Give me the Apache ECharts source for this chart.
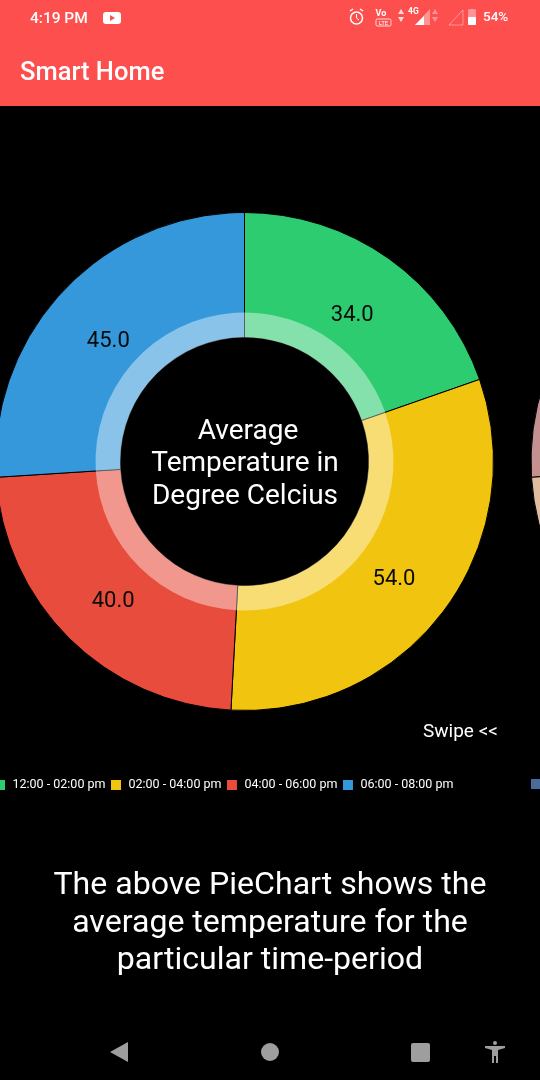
<!DOCTYPE html>
<html><head><meta charset="utf-8">
<style>html,body{margin:0;padding:0;background:#000}#c{width:540px;height:1080px}</style>
<script src="https://cdn.jsdelivr.net/npm/echarts@6/dist/echarts.min.js"></script>
</head><body><div id="c"></div>
<script>
const categories = ['12:00 - 02:00 pm','02:00 - 04:00 pm','04:00 - 06:00 pm','06:00 - 08:00 pm'];
const temperatures = [34.0, 54.0, 40.0, 45.0];
const sliceColors = ['#2ecc71','#f1c40f','#e74c3c','#3498db'];
const labelNudges = [[-2,9],[-2,4],[2,5],[2,10]];
const nextNames = ['next-a','next-b'];
const nextValues = [74, 26];
const nextColors = ['#e2bc9f','#c49090'];
const FONT = 'Roboto';
const txt = (x,y,text,size,extra={}) => ({type:'text',x,y,silent:true,z:extra.z||1,style:{text,fill:extra.fill||'#fff',font:`${extra.weight||400} ${size}px ${FONT}`,textAlign:extra.align||'left',textVerticalAlign:'middle'}});
const shape = (type,s,style,z=11) => ({type,shape:s,style,z,silent:true});
const faint = 'rgba(255,255,255,.4)';
const chart = echarts.init(document.getElementById('c'),null,{renderer:'canvas'});
const CENTER = [244.5,461.5];
chart.setOption({
  backgroundColor:'#000',
  animation:false,
  legend:{
    left:-7, top:778, width:700, orient:'horizontal', padding:0,
    itemWidth:12,itemHeight:12,itemGap:3.5,
    icon:'rect',
    selectedMode:false,
    data:categories,
    textStyle:{color:'#fff',fontFamily:FONT,fontSize:12.5,padding:[0,0,0,1.5]}
  },
  series:[
    {type:'pie',name:'Average Temperature',center:CENTER,radius:[124,249],startAngle:90,silent:true,
     itemStyle:{borderColor:'#000',borderWidth:1},
     label:{position:'inside',formatter:p=>p.value.toFixed(1),color:'#0a0a0a',fontFamily:FONT,fontSize:22},
     labelLine:{show:false},
     data:categories.map((n,i)=>({name:n,value:temperatures[i],itemStyle:{color:sliceColors[i]},label:{offset:labelNudges[i]}}))},
    {type:'pie',name:'ring',center:CENTER,radius:[124,149],startAngle:90,silent:true,
     itemStyle:{borderWidth:0},label:{show:false},labelLine:{show:false},
     data:categories.map((n,i)=>({name:n+' ring',value:temperatures[i],itemStyle:{color:'rgba(255,255,255,0.42)'}}))},
    {type:'pie',name:'next',center:[780,461.5],radius:[124,249],startAngle:90,silent:true,
     itemStyle:{borderColor:'#000',borderWidth:1},label:{show:false},labelLine:{show:false},
     data:nextNames.map((n,i)=>({name:n,value:nextValues[i],itemStyle:{color:nextColors[i]}}))}
  ],
  graphic:{elements:[
    shape('rect',{x:0,y:0,width:540,height:106},{fill:'#fe4f4f'},10),
    txt(30,19,'4:19 PM',15.5,{weight:500,z:11}),
    shape('rect',{x:103,y:12,width:18,height:12,r:3},{fill:'#fff'}),
    shape('polygon',{points:[[110,15],[110,21],[115,18]]},{fill:'#fe4f4f'},12),
    shape('circle',{cx:356.5,cy:18,r:6},{fill:'none',stroke:'#fff',lineWidth:1.5}),
    shape('line',{x1:350,y1:11,x2:353,y2:9},{stroke:'#fff',lineWidth:1.5}),
    shape('line',{x1:360,y1:9,x2:363,y2:11},{stroke:'#fff',lineWidth:1.5}),
    shape('polyline',{points:[[356.5,14],[356.5,18],[359,20]]},{fill:'none',stroke:'#fff',lineWidth:1}),
    txt(381,14,'Vo',9,{align:'center',weight:700,z:11}),
    shape('rect',{x:376,y:19,width:15,height:7,r:1.5},{fill:'none',stroke:'#fff',lineWidth:.8}),
    txt(383.5,23,'LTE',6,{align:'center',z:11}),
    shape('polygon',{points:[[398,14],[401,9],[404,14]]},{fill:'rgba(255,255,255,.8)'}),
    shape('polygon',{points:[[398,17],[401,22],[404,17]]},{fill:'rgba(255,255,255,.8)'}),
    txt(408,12,'4G',8.5,{weight:700,z:11}),
    shape('polygon',{points:[[415,25],[430,25],[430,9]]},{fill:faint}),
    shape('polygon',{points:[[415,25],[424,25],[424,16]]},{fill:'#fff'}),
    shape('polygon',{points:[[432,14],[435,9],[438,14]]},{fill:faint}),
    shape('polygon',{points:[[432,17],[435,22],[438,17]]},{fill:faint}),
    shape('polygon',{points:[[449,25],[463,25],[463,10]]},{fill:'none',stroke:faint,lineWidth:1}),
    shape('rect',{x:468,y:9,width:8,height:16,r:1.5},{fill:faint}),
    shape('rect',{x:468,y:17,width:8,height:8,r:1},{fill:'#fff'}),
    txt(483,18,'54%',13.5,{weight:500,z:11}),
    txt(20,74,'Smart Home',25.5,{weight:500,z:11}),
    txt(248,432,'Average',28,{align:'center'}),
    txt(245,464,'Temperature in',28,{align:'center'}),
    txt(245,497,'Degree Celcius',28,{align:'center'}),
    txt(423,732,'Swipe <<',19),
    shape('rect',{x:531,y:779,width:9,height:10},{fill:'#4a6a9c'},1),
    txt(270,886,'The above PieChart shows the',32.1,{align:'center'}),
    txt(270,924,'average temperature for the',32.1,{align:'center'}),
    txt(270,961,'particular time-period',32.1,{align:'center'}),
    shape('polygon',{points:[[110,1052],[128,1042],[128,1062]]},{fill:'#9e9e9e'},1),
    shape('circle',{cx:270,cy:1052,r:9},{fill:'#9e9e9e'},1),
    shape('rect',{x:411,y:1043,width:19,height:19,r:2},{fill:'#9e9e9e'},1),
    shape('circle',{cx:495,cy:1043,r:2},{fill:'#9e9e9e'},1),
    shape('polygon',{points:[[485,1046],[505,1046],[505,1048],[498,1050],[498,1063],[496,1063],[496,1056],[494,1056],[494,1063],[492,1063],[492,1050],[485,1048]]},{fill:'#9e9e9e'},1)
  ]}
});
</script></body></html>
